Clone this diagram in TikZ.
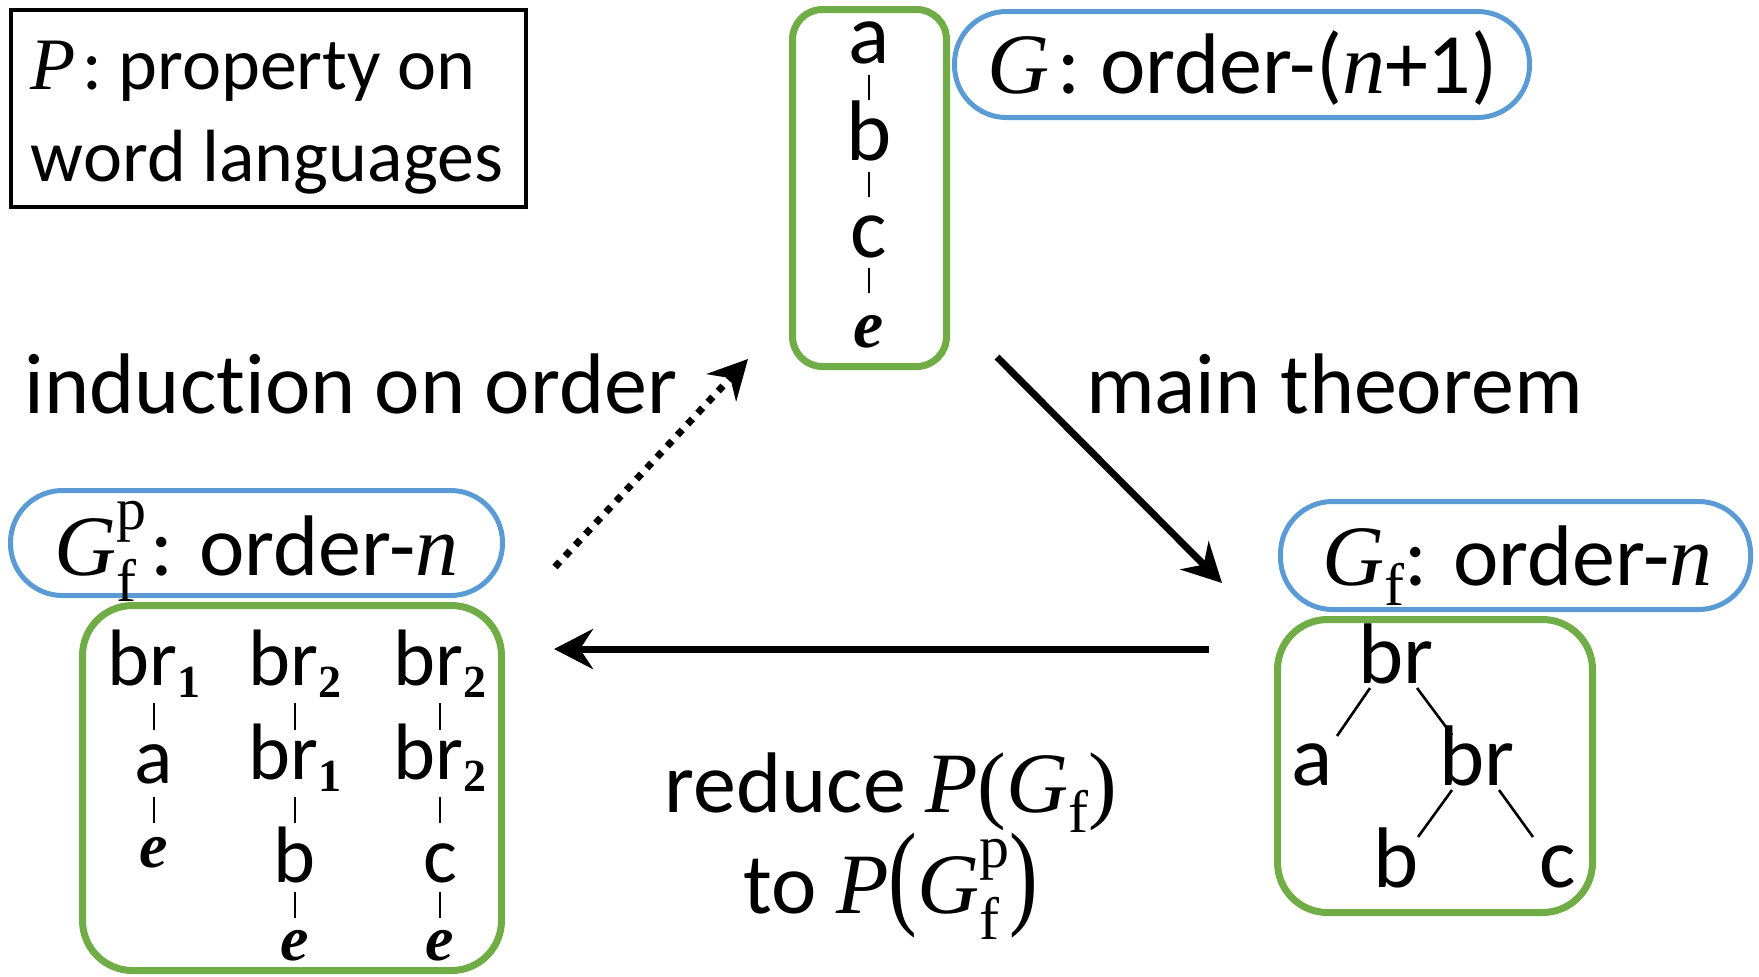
\documentclass[tikz,border=0pt]{standalone}
\usepackage{fontspec}
\setmainfont{Carlito}[Ligatures=NoCommon]
\newfontfamily\cam{Liberation Serif}
\usetikzlibrary{arrows.meta}
\definecolor{bblue}{HTML}{5B9BD5}
\definecolor{ggreen}{HTML}{70AD47}
\newcommand\mi[1]{{\cam\itshape #1}}
\newcommand\sbf{\smash{\raisebox{-10pt}{\fontsize{30}{30}\selectfont\cam f}}}
\newcommand\sbfp{\smash{\rlap{\raisebox{-13pt}{\fontsize{30}{30}\selectfont\cam f}}\raisebox{23pt}{\fontsize{30}{30}\selectfont\cam p}}}
\newcommand\brs[1]{br\raisebox{-6pt}{\fontsize{23}{23}\selectfont\cam\bfseries #1}}
\newcommand\ee{{\fontsize{32}{32}\selectfont\cam\bfseries\itshape e}}
\newcommand\bigpar[1]{\smash{\scalebox{1}[1.35]{\cam #1}}}
\begin{document}
\begin{tikzpicture}[x=0.5pt,y=-0.5pt,
  every node/.style={inner sep=0pt, outer sep=0pt, font=\fontsize{43}{50}\selectfont},
  blueb/.style={draw=bblue, line width=2.5pt, rounded corners=26pt, rectangle},
  greenb/.style={draw=ggreen, line width=3.5pt, rectangle},
  blackb/.style={draw=black, line width=1.75pt, rectangle},
  small/.style={font=\fontsize{40}{46}\selectfont},
  legendtext/.style={font=\fontsize{37}{44}\selectfont},
  tick/.style={line width=1.3pt},
  branch/.style={line width=1.3pt},
  arr/.style={line width=3.5pt, -{Stealth[length=19.5pt, width=20pt, inset=6.5pt]}},
  dotarr/.style={arr, dash pattern=on 3.5pt off 4pt}]
\useasboundingbox (0,0) rectangle (1759,976);

% boxes
\node[blackb, minimum width=257.5pt, minimum height=98.5pt] (legend) at (268.5,108.5) {};
\node[greenb, rounded corners=15pt, minimum width=77pt, minimum height=178.5pt] (gtop) at (869.5,188) {};
\node[blueb, minimum width=287.5pt, minimum height=53pt] (btop) at (1242,64.5) {};
\node[greenb, rounded corners=25pt, minimum width=209.5pt, minimum height=182.5pt] (gleft) at (292,788) {};
\node[blueb, minimum width=246pt, minimum height=52.5pt] (bleft) at (256.5,543) {};
\node[greenb, rounded corners=25pt, minimum width=157.5pt, minimum height=146.5pt] (gright) at (1435,766) {};
\node[blueb, minimum width=235pt, minimum height=54pt] (bright) at (1515.5,555.5) {};

% legend text
\node[legendtext, anchor=base west] (p1) at (31,89) {\mi{P}\kern3pt: property on};
\node[legendtext, anchor=base west] (p2) at (31,181) {word languages};

% labels in blue boxes
\node[anchor=base] (tG) at (1242.5,93) {\mi{G}\kern4pt: order-(\mi{n}+1)};
\node[anchor=base] (tGp) at (256.5,575) {\mi{G}\sbfp\kern2pt: order-\mi{n}};
\node[anchor=base] (tGf) at (1517.5,585) {\mi{G}\sbf: order-\mi{n}};

% side labels
\node[anchor=base west] (ind) at (25,413) {induction on order};
\node[anchor=base west] (mt) at (1086,413) {main theorem};
\node[anchor=base] (red1) at (891,812) {reduce \mi{P}{\cam(}\mi{G}\sbf{\cam)}};
\node[anchor=base] (red2) at (891,913) {to \mi{P}\bigpar(\mi{G}\sbfp\bigpar)};

% top word
\node[anchor=base] (ta) at (869,63) {a};
\node[anchor=base] (tb) at (869,160) {b};
\node[anchor=base] (tc) at (869,257) {c};
\node[anchor=base] (te) at (869,347) {\fontsize{34}{34}\selectfont\cam\bfseries\itshape e};
\draw[tick] ([yshift=-6pt]ta.base) -- ++(0,25);
\draw[tick] ([yshift=-6pt]tb.base) -- ++(0,25);
\draw[tick] ([yshift=-5.5pt]tc.base) -- ++(0,25);

% left words
\node[small, anchor=base] (l11) at (154,685) {\brs{1}};
\node[small, anchor=base] (l12) at (154,783) {a};
\node[anchor=base] (l13) at (154,867) {\ee};
\node[small, anchor=base] (l21) at (295,685) {\brs{2}};
\node[small, anchor=base] (l22) at (295,779) {\brs{1}};
\node[small, anchor=base] (l23) at (295,882) {b};
\node[anchor=base] (l24) at (295,960) {\ee};
\node[small, anchor=base] (l31) at (440,685) {\brs{2}};
\node[small, anchor=base] (l32) at (440,779) {\brs{2}};
\node[small, anchor=base] (l33) at (440,882) {c};
\node[anchor=base] (l34) at (440,960) {\ee};
\draw[tick] ([yshift=-9pt]l11.base) -- ++(0,27);
\draw[tick] ([yshift=-7pt]l12.base) -- ++(0,26);
\draw[tick] ([yshift=-9pt]l21.base) -- ++(0,27);
\draw[tick] ([yshift=-9pt]l22.base) -- ++(0,26);
\draw[tick] ([yshift=-5pt]l23.base) -- ++(0,26);
\draw[tick] ([yshift=-9pt]l31.base) -- ++(0,27);
\draw[tick] ([yshift=-9pt]l32.base) -- ++(0,26);
\draw[tick] ([yshift=-5pt]l33.base) -- ++(0,26);

% right tree
\node[anchor=base] (r1) at (1396,683) {br};
\node[anchor=base] (ra) at (1312,785) {a};
\node[anchor=base] (r2) at (1477,785) {br};
\node[anchor=base] (rb) at (1396,887) {b};
\node[anchor=base] (rc) at (1558,887) {c};
\draw[branch] ([shift={(-26,5)}]r1.base) -- ([shift={(25,-49)}]ra.base);
\draw[branch] ([shift={(21,5)}]r1.base) -- ([shift={(-25,-50)}]r2.base);
\draw[branch] ([shift={(-25,5)}]r2.base) -- ([shift={(22,-50)}]rb.base);
\draw[branch] ([shift={(22,5)}]r2.base) -- ([shift={(-25,-50)}]rc.base);

% arrows
\coordinate (d1) at (555,567);
\coordinate (d2) at (748,359);
\coordinate (m1) at (997,357);
\coordinate (m2) at (1222,583);
\coordinate (h1) at (1209,649);
\coordinate (h2) at (554,649);
\draw[dotarr] (d1) -- (d2);
\draw[arr] (m1) -- (m2);
\draw[arr] (h1) -- (h2);
\end{tikzpicture}
\end{document}
